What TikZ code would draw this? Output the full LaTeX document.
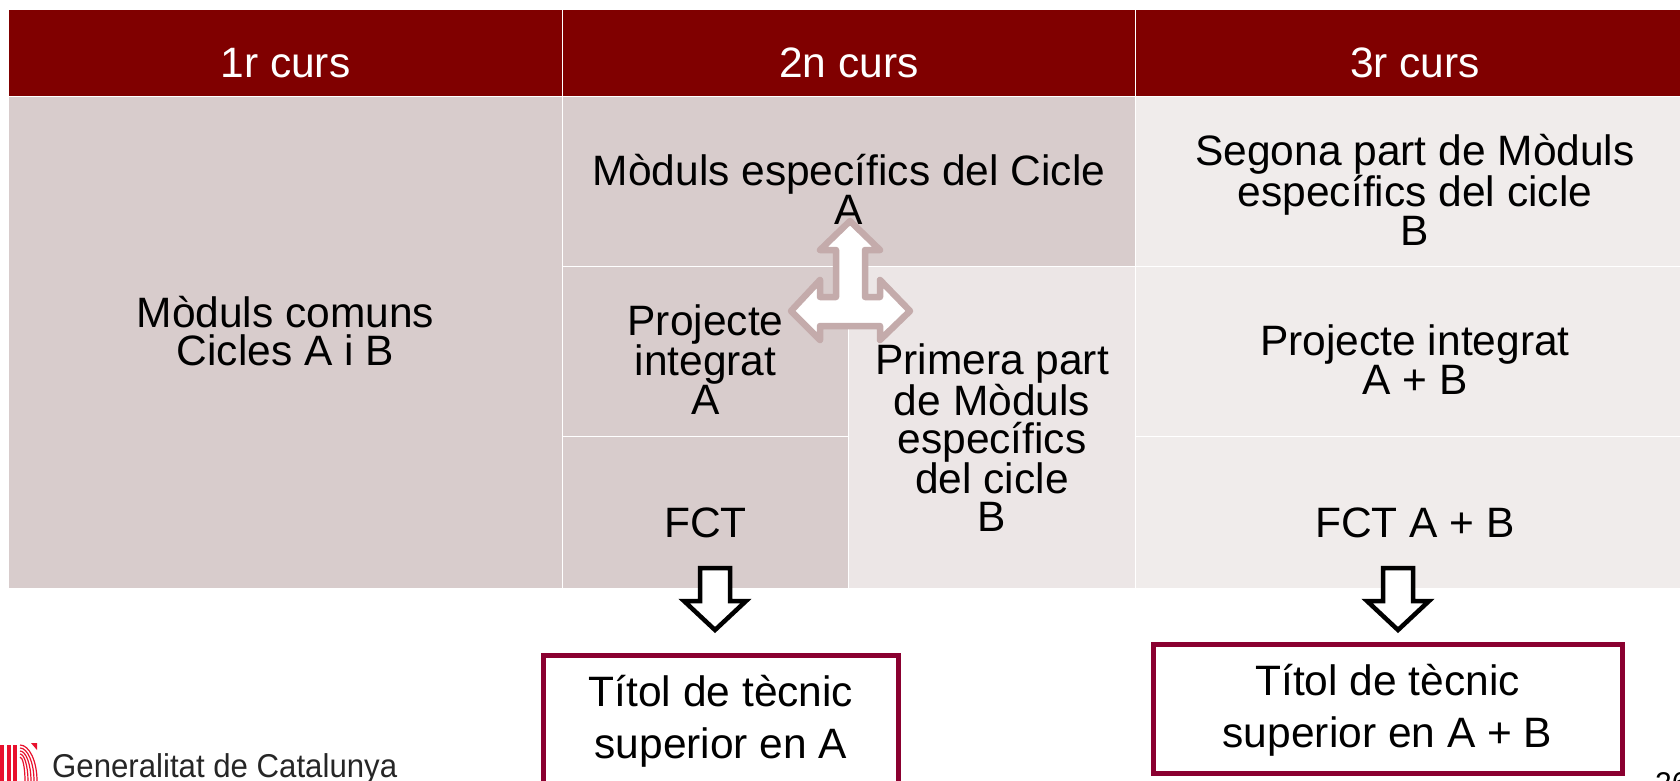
\documentclass[tikz,border=0pt]{standalone}
\usepackage{fontspec}
\setmainfont{Liberation Sans}
\newfontfamily\logofont[FakeStretch=0.945]{Liberation Sans}
\usetikzlibrary{calc}
\definecolor{headred}{HTML}{800000}
\definecolor{celldark}{HTML}{D8CCCC}
\definecolor{cellmid}{HTML}{ECE6E6}
\definecolor{celllight}{HTML}{F0ECEB}
\definecolor{arrowrose}{HTML}{C4ABAB}
\definecolor{boxwine}{HTML}{8A0030}
\definecolor{logored}{HTML}{E8112D}
\tikzset{
  cell/.style     = {shape=rectangle, draw=white, line width=1pt, inner sep=0pt},
  head/.style     = {cell, fill=headred},
  dark/.style     = {cell, fill=celldark},
  mid/.style      = {cell, fill=cellmid},
  light/.style    = {cell, fill=celllight},
  celltext/.style = {align=center, inner sep=0pt, yshift=-10pt,
                     font=\fontsize{42.5}{38}\selectfont},
  lifted/.style   = {yshift=2pt},
  titlebox/.style = {shape=rectangle, draw=boxwine, line width=5pt, fill=white,
                     inner sep=0pt},
  titletext/.style = {align=center, inner sep=0pt, yshift=-2pt,
                     font=\fontsize{42.5}{52}\selectfont},
  downarrow/.style = {draw=black, line width=4.5pt, fill=white, miter limit=10},
  splitarrow/.style = {draw=arrowrose, line width=6.5pt, fill=white, line join=round}
}
% one cell from its top left corner, width and height, then its text
\newcommand{\cellnode}[8][]{%
  \node [#2, minimum width=#6pt, minimum height=#7pt, anchor=north west]
    (#3) at (#4,#5) {};
  \node [celltext, #1] (#3text) at (#3.center) {#8};
}
\begin{document}
\begin{tikzpicture}[x=1pt, y=-1pt]
  \useasboundingbox (0,0) rectangle (1680,781);
  % header
  \cellnode[text=white]{head}{curs1}{8}{9}{554}{87}{1r curs}
  \cellnode[text=white]{head}{curs2}{562}{9}{573}{87}{2n curs}
  \cellnode[text=white]{head}{curs3}{1135}{9}{559}{87}{3r curs}
  % first year
  \cellnode[yshift=21pt]{dark}{comuns}{8}{96}{554}{492}{Mòduls comuns\\Cicles A i B}
  % second year
  \cellnode[lifted]{dark}{especA}{562}{96}{573}{170}{Mòduls específics del Cicle\\A}
  \cellnode[lifted]{dark}{projA}{562}{266}{286}{170}{Projecte\\integrat\\A}
  \cellnode{dark}{fctA}{562}{436}{286}{152}{FCT}
  \cellnode{mid}{especB}{848}{266}{287}{322}{Primera part\\de Mòduls\\específics\\del cicle\\B}
  % third year
  \cellnode[lifted]{light}{segona}{1135}{96}{559}{170}{Segona part de Mòduls\\específics del cicle\\B}
  \cellnode[lifted]{light}{projAB}{1135}{266}{559}{170}{Projecte integrat\\A + B}
  \cellnode{light}{fctAB}{1135}{436}{559}{152}{FCT A + B}
  % arrows
  \draw [splitarrow] (850,221) -- (880,250) -- (865,250) -- (865,297) -- (880,297)
    -- (880,280) -- (910,311) -- (880,340) -- (880,326) -- (820,326) -- (820,340)
    -- (791,311) -- (820,280) -- (820,297) -- (836,297) -- (836,250) -- (820,250) -- cycle;
  \foreach \cx in {715,1398}
    \draw [downarrow, shift={(\cx,0)}] (-15,568) -- (15,568) -- (15,601) -- (31,601)
      -- (0,630) -- (-31,601) -- (-15,601) -- cycle;
  % results
  \node [titlebox, minimum width=355pt, minimum height=129.5pt, anchor=north west]
    (titolA) at (541,653) {};
  \node [titletext, yshift=1pt] (titolAtext) at (titolA.center) {Títol de tècnic\\superior en A};
  \node [titlebox, minimum width=469pt, minimum height=129pt, anchor=north west]
    (titolAB) at (1150.5,641.5) {};
  \node [titletext] (titolABtext) at (titolAB.center) {Títol de tècnic\\superior en A + B};
  % footer
  \foreach \sx/\sw in {0/4,7/4,13/4}
    \fill [logored] (\sx,745) rectangle +(\sw,36);
  \foreach \dd in {0,3,6,9,12}
    \draw [logored, line width=1.2pt] (20,745+\dd)
      arc [start angle=270, end angle=360, x radius=17-\dd, y radius=36-\dd];
  \fill [logored] (31,743) -- (37,743) -- (37,750) -- cycle;
  \node [anchor=base west, inner sep=0pt, text=black!85, font=\logofont\fontsize{33}{33}\selectfont]
    (generalitat) at (52,777) {Generalitat de Catalunya};
  \node [anchor=base west, inner sep=0pt, font=\fontsize{30}{30}\selectfont]
    (pagina) at (1655,793) {26};
\end{tikzpicture}
\end{document}
